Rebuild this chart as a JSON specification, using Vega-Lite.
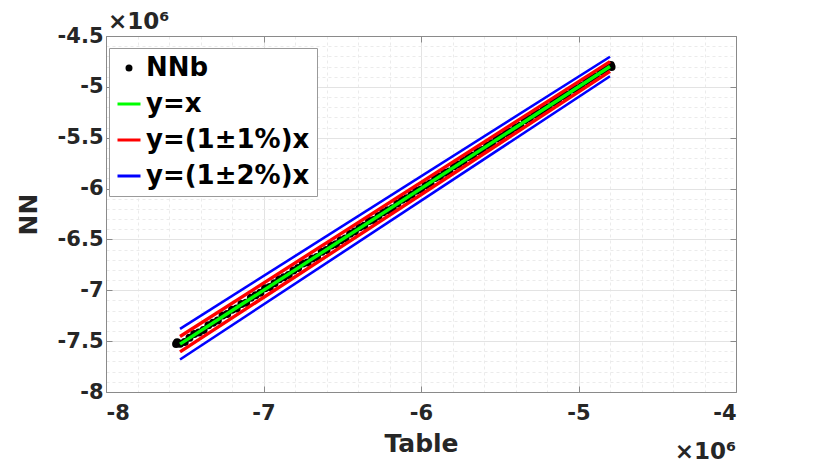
{
  "$schema": "https://vega.github.io/schema/vega-lite/v6.json",
  "width": 630,
  "height": 356,
  "autosize": "none",
  "padding": {"left": 106, "top": 36, "right": 78, "bottom": 72},
  "background": "white",
  "config": {
    "view": {"stroke": null},
    "font": "DejaVu Sans",
    "axis": {
      "labelFont": "DejaVu Sans", "labelFontWeight": "bold", "labelFontSize": 21, "labelColor": "#262626",
      "titleFont": "DejaVu Sans", "titleFontWeight": "bold", "titleFontSize": 25, "titleColor": "#262626",
      "domainColor": "#8a8a8a", "tickColor": "#8a8a8a", "domainWidth": 1, "tickWidth": 1
    },
    "legend": {
      "orient": "none", "legendX": 3, "legendY": 12,
      "fillColor": "white", "strokeColor": "#9a9a9a", "padding": 7,
      "labelFont": "DejaVu Sans", "labelFontWeight": "bold", "labelFontSize": 26, "labelColor": "#000000", "labelOffset": 4, "labelLimit": 400,
      "symbolSize": 529, "symbolType": "stroke", "symbolStrokeWidth": 3, "rowPadding": 10
    }
  },
  "datasets": {
    "pts": [
      {"s": "NNb", "x": -7555000, "y": -7528000},
      {"s": "NNb", "x": -7548000, "y": -7512000},
      {"s": "NNb", "x": -7530000, "y": -7525000},
      {"s": "NNb", "x": -7500000, "y": -7508000},
      {"s": "NNb", "x": -7470000, "y": -7467000},
      {"s": "NNb", "x": -7440000, "y": -7430000},
      {"s": "NNb", "x": -7410000, "y": -7414000},
      {"s": "NNb", "x": -7380000, "y": -7391000},
      {"s": "NNb", "x": -7350000, "y": -7343000},
      {"s": "NNb", "x": -7320000, "y": -7319000},
      {"s": "NNb", "x": -7290000, "y": -7296000},
      {"s": "NNb", "x": -7260000, "y": -7248000},
      {"s": "NNb", "x": -7230000, "y": -7232000},
      {"s": "NNb", "x": -7200000, "y": -7192000},
      {"s": "NNb", "x": -7170000, "y": -7179000},
      {"s": "NNb", "x": -7140000, "y": -7136000},
      {"s": "NNb", "x": -7110000, "y": -7123000},
      {"s": "NNb", "x": -7080000, "y": -7074000},
      {"s": "NNb", "x": -7050000, "y": -7048000},
      {"s": "NNb", "x": -7020000, "y": -7025000},
      {"s": "NNb", "x": -6990000, "y": -6979000},
      {"s": "NNb", "x": -6960000, "y": -6967000},
      {"s": "NNb", "x": -6930000, "y": -6930000},
      {"s": "NNb", "x": -6900000, "y": -6891000},
      {"s": "NNb", "x": -6870000, "y": -6873000},
      {"s": "NNb", "x": -6840000, "y": -6850000},
      {"s": "NNb", "x": -6810000, "y": -6805000},
      {"s": "NNb", "x": -6780000, "y": -6781000},
      {"s": "NNb", "x": -6750000, "y": -6737000},
      {"s": "NNb", "x": -6720000, "y": -6726000},
      {"s": "NNb", "x": -6690000, "y": -6687000},
      {"s": "NNb", "x": -6660000, "y": -6672000},
      {"s": "NNb", "x": -6630000, "y": -6622000},
      {"s": "NNb", "x": -6600000, "y": -6604000},
      {"s": "NNb", "x": -6570000, "y": -6560000},
      {"s": "NNb", "x": -6540000, "y": -6548000},
      {"s": "NNb", "x": -6510000, "y": -6508000},
      {"s": "NNb", "x": -6480000, "y": -6491000},
      {"s": "NNb", "x": -6450000, "y": -6444000},
      {"s": "NNb", "x": -6420000, "y": -6422000},
      {"s": "NNb", "x": -6390000, "y": -6381000},
      {"s": "NNb", "x": -6360000, "y": -6365000},
      {"s": "NNb", "x": -6330000, "y": -6318000},
      {"s": "NNb", "x": -6300000, "y": -6309000},
      {"s": "NNb", "x": -6270000, "y": -6269000},
      {"s": "NNb", "x": -6240000, "y": -6233000},
      {"s": "NNb", "x": -6210000, "y": -6213000},
      {"s": "NNb", "x": -6180000, "y": -6193000},
      {"s": "NNb", "x": -6150000, "y": -6146000},
      {"s": "NNb", "x": -6120000, "y": -6109000},
      {"s": "NNb", "x": -6090000, "y": -6096000},
      {"s": "NNb", "x": -6060000, "y": -6060000},
      {"s": "NNb", "x": -6030000, "y": -6022000},
      {"s": "NNb", "x": -6000000, "y": -6010000},
      {"s": "NNb", "x": -5970000, "y": -5967000},
      {"s": "NNb", "x": -5940000, "y": -5947000},
      {"s": "NNb", "x": -5910000, "y": -5897000},
      {"s": "NNb", "x": -5880000, "y": -5881000},
      {"s": "NNb", "x": -5850000, "y": -5845000},
      {"s": "NNb", "x": -5820000, "y": -5832000},
      {"s": "NNb", "x": -5790000, "y": -5781000},
      {"s": "NNb", "x": -5760000, "y": -5764000},
      {"s": "NNb", "x": -5730000, "y": -5728000},
      {"s": "NNb", "x": -5700000, "y": -5690000},
      {"s": "NNb", "x": -5670000, "y": -5678000},
      {"s": "NNb", "x": -5640000, "y": -5634000},
      {"s": "NNb", "x": -5610000, "y": -5621000},
      {"s": "NNb", "x": -5580000, "y": -5579000},
      {"s": "NNb", "x": -5550000, "y": -5555000},
      {"s": "NNb", "x": -5520000, "y": -5508000},
      {"s": "NNb", "x": -5490000, "y": -5493000},
      {"s": "NNb", "x": -5460000, "y": -5453000},
      {"s": "NNb", "x": -5430000, "y": -5439000},
      {"s": "NNb", "x": -5400000, "y": -5396000},
      {"s": "NNb", "x": -5370000, "y": -5383000},
      {"s": "NNb", "x": -5340000, "y": -5329000},
      {"s": "NNb", "x": -5310000, "y": -5312000},
      {"s": "NNb", "x": -5280000, "y": -5272000},
      {"s": "NNb", "x": -5250000, "y": -5256000},
      {"s": "NNb", "x": -5220000, "y": -5217000},
      {"s": "NNb", "x": -5190000, "y": -5200000},
      {"s": "NNb", "x": -5160000, "y": -5155000},
      {"s": "NNb", "x": -5130000, "y": -5130000},
      {"s": "NNb", "x": -5100000, "y": -5091000},
      {"s": "NNb", "x": -5070000, "y": -5077000},
      {"s": "NNb", "x": -5040000, "y": -5027000},
      {"s": "NNb", "x": -5010000, "y": -5014000},
      {"s": "NNb", "x": -4980000, "y": -4991000},
      {"s": "NNb", "x": -4950000, "y": -4944000},
      {"s": "NNb", "x": -4920000, "y": -4918000},
      {"s": "NNb", "x": -4890000, "y": -4898000},
      {"s": "NNb", "x": -4860000, "y": -4850000},
      {"s": "NNb", "x": -4830000, "y": -4831000},
      {"s": "NNb", "x": -4800000, "y": -4796000},
      {"s": "NNb", "x": -4795000, "y": -4785000},
      {"s": "NNb", "x": -4790000, "y": -4806000}
    ],
    "lines": [
      {"s": "y=(1±2%)x", "k": "b1", "x": -7530000, "y": -7680600},
      {"s": "y=(1±2%)x", "k": "b1", "x": -4800000, "y": -4896000},
      {"s": "y=(1±2%)x", "k": "b2", "x": -7530000, "y": -7379400},
      {"s": "y=(1±2%)x", "k": "b2", "x": -4800000, "y": -4704000},
      {"s": "y=(1±1%)x", "k": "r1", "x": -7530000, "y": -7605300},
      {"s": "y=(1±1%)x", "k": "r1", "x": -4800000, "y": -4848000},
      {"s": "y=(1±1%)x", "k": "r2", "x": -7530000, "y": -7454700},
      {"s": "y=(1±1%)x", "k": "r2", "x": -4800000, "y": -4752000},
      {"s": "y=x", "k": "g", "x": -7530000, "y": -7530000},
      {"s": "y=x", "k": "g", "x": -4800000, "y": -4800000}
    ]
  },
  "resolve": {"axis": {"x": "independent", "y": "independent"}},
  "layer": [
    {
      "data": {"name": "pts"},
      "mark": {"type": "point", "filled": true, "opacity": 1, "size": 64, "shape": "circle"},
      "encoding": {
        "x": {"field": "x", "type": "quantitative", "scale": {"domain": [-8000000, -4000000], "nice": false, "zero": false},
          "axis": {"orient": "bottom", "values": [-7800000, -7600000, -7400000, -7200000, -6800000, -6600000, -6400000, -6200000, -5800000, -5600000, -5400000, -5200000, -4800000, -4600000, -4400000, -4200000],
            "domain": false, "ticks": false, "labels": false, "title": null, "grid": true, "gridColor": "#ebebeb", "gridDash": [3, 3], "gridWidth": 1}},
        "y": {"field": "y", "type": "quantitative", "scale": {"domain": [-8000000, -4500000], "nice": false, "zero": false},
          "axis": {"orient": "left", "values": [-7900000, -7800000, -7700000, -7600000, -7400000, -7300000, -7200000, -7100000, -6900000, -6800000, -6700000, -6600000, -6400000, -6300000, -6200000, -6100000, -5900000, -5800000, -5700000, -5600000, -5400000, -5300000, -5200000, -5100000, -4900000, -4800000, -4700000, -4600000],
            "domain": false, "ticks": false, "labels": false, "title": null, "grid": true, "gridColor": "#ebebeb", "gridDash": [3, 3], "gridWidth": 1}},
        "color": {"field": "s", "type": "nominal",
          "scale": {"domain": ["NNb", "y=x", "y=(1±1%)x", "y=(1±2%)x"], "range": ["#000000", "#00ff00", "#ff0000", "#0000ff"]},
          "legend": {"title": null, "encode": {"symbols": {"update": {
              "shape": {"signal": "datum.value === 'NNb' ? 'circle' : 'stroke'"},
              "size": {"signal": "datum.value === 'NNb' ? 16 : 529"},
              "stroke": {"scale": "color", "field": "value"},
              "fill": {"scale": "color", "field": "value"},
              "strokeWidth": {"value": 3},
              "opacity": {"value": 1}}}}}
        }
      }
    },
    {
      "data": {"name": "lines"},
      "transform": [{"filter": "datum.k === 'b1' || datum.k === 'b2'"}],
      "mark": {"type": "line", "strokeWidth": 2.6},
      "encoding": {
        "x": {"field": "x", "type": "quantitative", "scale": {"domain": [-8000000, -4000000], "nice": false, "zero": false},
          "axis": {"orient": "bottom", "values": [-8000000, -7000000, -6000000, -5000000, -4000000], "labelExpr": "'' + (datum.value / 1000000)",
            "tickSize": -6, "labelPadding": 16, "grid": true, "gridColor": "#e3e3e3", "title": "Table", "titlePadding": 8}},
        "y": {"field": "y", "type": "quantitative", "scale": {"domain": [-8000000, -4500000], "nice": false, "zero": false},
          "axis": {"orient": "left", "values": [-8000000, -7500000, -7000000, -6500000, -6000000, -5500000, -5000000, -4500000], "labelExpr": "'' + (datum.value / 1000000)",
            "tickSize": -6, "labelPadding": 9, "grid": true, "gridColor": "#e3e3e3", "title": "NN", "titlePadding": 16}},
        "detail": {"field": "k"},
        "color": {"field": "s", "type": "nominal",
          "legend": {"title": null, "encode": {"symbols": {"update": {
              "shape": {"signal": "datum.value === 'NNb' ? 'circle' : 'stroke'"},
              "size": {"signal": "datum.value === 'NNb' ? 16 : 529"},
              "stroke": {"scale": "color", "field": "value"},
              "fill": {"scale": "color", "field": "value"},
              "strokeWidth": {"value": 3},
              "opacity": {"value": 1}}}}}}
      }
    },
    {
      "data": {"name": "lines"},
      "transform": [{"filter": "datum.k === 'r1' || datum.k === 'r2'"}],
      "mark": {"type": "line", "strokeWidth": 3.4},
      "encoding": {
        "x": {"field": "x", "type": "quantitative", "scale": {"domain": [-8000000, -4000000], "nice": false, "zero": false},
          "axis": {"orient": "top", "values": [-8000000, -7000000, -6000000, -5000000, -4000000], "labels": false, "tickSize": -6, "grid": false, "title": null}},
        "y": {"field": "y", "type": "quantitative", "scale": {"domain": [-8000000, -4500000], "nice": false, "zero": false},
          "axis": {"orient": "right", "values": [-8000000, -7500000, -7000000, -6500000, -6000000, -5500000, -5000000, -4500000], "labels": false, "tickSize": -6, "grid": false, "title": null}},
        "detail": {"field": "k"},
        "color": {"field": "s", "type": "nominal",
          "legend": {"title": null, "encode": {"symbols": {"update": {
              "shape": {"signal": "datum.value === 'NNb' ? 'circle' : 'stroke'"},
              "size": {"signal": "datum.value === 'NNb' ? 16 : 529"},
              "stroke": {"scale": "color", "field": "value"},
              "fill": {"scale": "color", "field": "value"},
              "strokeWidth": {"value": 3},
              "opacity": {"value": 1}}}}}}
      }
    },
    {
      "data": {"name": "lines"},
      "transform": [{"filter": "datum.k === 'g'"}],
      "mark": {"type": "line", "strokeWidth": 3.4},
      "encoding": {
        "x": {"field": "x", "type": "quantitative", "scale": {"domain": [-8000000, -4000000], "nice": false, "zero": false}, "axis": null},
        "y": {"field": "y", "type": "quantitative", "scale": {"domain": [-8000000, -4500000], "nice": false, "zero": false}, "axis": null},
        "color": {"field": "s", "type": "nominal",
          "legend": {"title": null, "encode": {"symbols": {"update": {
              "shape": {"signal": "datum.value === 'NNb' ? 'circle' : 'stroke'"},
              "size": {"signal": "datum.value === 'NNb' ? 16 : 529"},
              "stroke": {"scale": "color", "field": "value"},
              "fill": {"scale": "color", "field": "value"},
              "strokeWidth": {"value": 3},
              "opacity": {"value": 1}}}}}}
      }
    },
    {
      "data": {"values": [{}]},
      "mark": {"type": "text", "text": "×10⁶", "align": "left", "baseline": "alphabetic", "font": "DejaVu Sans", "fontWeight": "bold", "fontSize": 23, "color": "#262626", "dx": 2, "dy": -7},
      "encoding": {
        "x": {"datum": -8000000, "type": "quantitative", "axis": null},
        "y": {"datum": -4500000, "type": "quantitative", "axis": null}
      }
    },
    {
      "data": {"values": [{}]},
      "mark": {"type": "text", "text": "×10⁶", "align": "right", "baseline": "alphabetic", "font": "DejaVu Sans", "fontWeight": "bold", "fontSize": 23, "color": "#262626", "dx": 0, "dy": 67},
      "encoding": {
        "x": {"datum": -4000000, "type": "quantitative", "axis": null},
        "y": {"datum": -8000000, "type": "quantitative", "axis": null}
      }
    }
  ]
}
